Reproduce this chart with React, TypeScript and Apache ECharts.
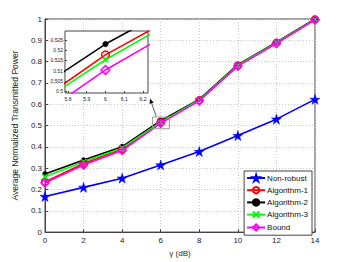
import React, { useEffect, useRef } from "react";
import * as echarts from "echarts";

const gammaDb = [0, 2, 4, 6, 8, 10, 12, 14];
const nonRobust = [0.167, 0.21, 0.253, 0.315, 0.378, 0.453, 0.53, 0.623];
const algorithm1 = [0.235, 0.322, 0.39, 0.5177, 0.619, 0.782, 0.888, 0.998];
const algorithm2 = [0.273, 0.338, 0.401, 0.523, 0.623, 0.786, 0.891, 1.0];
const algorithm3 = [0.26, 0.33, 0.395, 0.5153, 0.62, 0.783, 0.889, 0.998];
const bound = [0.231, 0.315, 0.383, 0.5103, 0.616, 0.779, 0.885, 0.996];
const insetXTicks = [5.8, 5.9, 6, 6.1, 6.2];
const insetYTicks = [0.5, 0.505, 0.51, 0.515, 0.52, 0.525];

const STAR =
  "path://M50,0L61.8,36.2L100,36.2L69.1,58.8L80.9,95.1L50,72.5L19.1,95.1L30.9,58.8L0,36.2L38.2,36.2Z";
const CROSS = "path://M0,0L10,10M10,0L0,10";

const FONT = "'Liberation Sans', Arial, sans-serif";

const seriesDefs = [
  { name: "Non-robust", data: nonRobust, color: "#0000ff", symbol: STAR, size: 10, fill: "#0000ff" },
  { name: "Algorithm-1", data: algorithm1, color: "#ff0000", symbol: "circle", size: 7, fill: "none" },
  { name: "Algorithm-2", data: algorithm2, color: "#000000", symbol: "circle", size: 5, fill: "#000000" },
  { name: "Algorithm-3", data: algorithm3, color: "#00ff00", symbol: CROSS, size: 5, fill: "none" },
  { name: "Bound", data: bound, color: "#ff00ff", symbol: "diamond", size: 8, fill: "none" },
];

export default function App() {
  const ref = useRef<HTMLDivElement>(null);
  useEffect(() => {
    const chart = echarts.init(ref.current!, null, { renderer: "svg" });
    const mkSeries = (gi: number, inset: boolean) =>
      seriesDefs.map((s) => ({
        name: s.name,
        type: "line",
        xAxisIndex: gi,
        yAxisIndex: gi,
        data: gammaDb.map((g, i) => [g, s.data[i]]),
        symbol: s.symbol,
        symbolSize: inset ? s.size * 1.1 : s.size,
        clip: true,
        showSymbol: true,
        lineStyle: { color: s.color, width: 1.6 },
        itemStyle: {
          color: s.fill,
          borderColor: s.color,
          borderWidth: s.fill === "none" ? 1.5 : 0.5,
        },
        z: (inset ? 20 : 0) + (s.name === "Bound" ? 6 : s.name === "Non-robust" ? 2 : 4),
        emphasis: { disabled: true },
      }));
    const fmt = (v: number) => String(parseFloat(v.toFixed(3)));
    chart.setOption({
      animation: false,
      textStyle: { fontFamily: FONT },
      grid: [
        { left: 45, right: 34, top: 19, bottom: 29.5, show: true, borderColor: "#444", borderWidth: 1 },
        { left: 65, top: 31, width: 83, height: 62, show: true, borderColor: "#444", borderWidth: 1, backgroundColor: "#fff", z: 15 },
      ],
      xAxis: [
        {
          type: "value",
          gridIndex: 0,
          min: 0,
          max: 14,
          interval: 2,
          name: "γ (dB)",
          nameLocation: "middle",
          nameGap: 11.5,
          nameTextStyle: { fontSize: 8, color: "#222", fontFamily: FONT },
          axisLine: { lineStyle: { color: "#444" } },
          axisTick: { inside: true, length: 3, lineStyle: { color: "#444" } },
          axisLabel: { fontSize: 8, color: "#222", margin: 4, fontFamily: FONT },
          splitLine: { show: true, lineStyle: { color: "#c8c8c8", type: [1, 2], width: 1 } },
        },
        {
          type: "value",
          gridIndex: 1,
          min: 5.784,
          max: 6.227,
          axisLine: { show: false },
          axisTick: { inside: true, length: 2, customValues: insetXTicks, lineStyle: { color: "#444" } },
          axisLabel: { fontSize: 5, color: "#222", margin: 3, customValues: insetXTicks, formatter: fmt, fontFamily: FONT },
          splitLine: { show: false },
          z: 30,
        },
      ],
      yAxis: [
        {
          type: "value",
          gridIndex: 0,
          min: 0,
          max: 1,
          interval: 0.1,
          name: "Average Normalized Transmitted Power",
          nameLocation: "middle",
          nameGap: 12,
          nameTextStyle: { fontSize: 8.5, color: "#222", fontFamily: FONT },
          axisLine: { lineStyle: { color: "#444" } },
          axisTick: { inside: true, length: 3, lineStyle: { color: "#444" } },
          axisLabel: { fontSize: 8, color: "#222", margin: 3, formatter: fmt, fontFamily: FONT },
          splitLine: { show: true, lineStyle: { color: "#c8c8c8", type: [1, 2], width: 1 } },
        },
        {
          type: "value",
          gridIndex: 1,
          min: 0.499,
          max: 0.5294,
          axisLine: { show: false },
          axisTick: { inside: true, length: 2, customValues: insetYTicks, lineStyle: { color: "#444" } },
          axisLabel: { fontSize: 5, color: "#222", margin: 2, customValues: insetYTicks, formatter: fmt, fontFamily: FONT },
          splitLine: { show: false },
          z: 30,
        },
      ],
      legend: {
        orient: "vertical",
        right: 37,
        top: 171,
        itemWidth: 18,
        itemHeight: 8,
        itemGap: 1.5,
        padding: [2, 4, 2, 2],
        backgroundColor: "#fff",
        borderColor: "#444",
        borderWidth: 1,
        z: 40,
        textStyle: { fontSize: 8, lineHeight: 10, color: "#111", fontFamily: FONT, padding: [0, 0, 0, -3] },
        data: seriesDefs.map((s) => s.name),
      },
      series: [...mkSeries(0, false), ...mkSeries(1, true)],
    });

    // annotation: zoom rectangle + arrow pointing to inset
    const p1 = chart.convertToPixel({ gridIndex: 0 }, [5.58, 0.54]) as number[];
    const p2 = chart.convertToPixel({ gridIndex: 0 }, [6.45, 0.485]) as number[];
    const tail = [p1[0] + 3.5, p1[1] - 1];
    const tip = [150, 98.5];
    const dx = tip[0] - tail[0];
    const dy = tip[1] - tail[1];
    const len = Math.sqrt(dx * dx + dy * dy);
    const ux = dx / len;
    const uy = dy / len;
    const hl = 5;
    const hw = 2.2;
    const base = [tip[0] - ux * hl, tip[1] - uy * hl];
    chart.setOption({
      graphic: [
        {
          type: "rect",
          shape: { x: p1[0], y: p1[1], width: p2[0] - p1[0], height: p2[1] - p1[1] },
          style: { fill: "none", stroke: "#999", lineWidth: 1 },
          z: 20,
        },
        {
          type: "line",
          shape: { x1: tail[0], y1: tail[1], x2: base[0], y2: base[1] },
          style: { stroke: "#333", lineWidth: 0.8 },
          z: 20,
        },
        {
          type: "polygon",
          shape: {
            points: [
              tip,
              [base[0] - uy * hw, base[1] + ux * hw],
              [base[0] + uy * hw, base[1] - ux * hw],
            ],
          },
          style: { fill: "#111" },
          z: 20,
        },
      ],
    });
    return () => chart.dispose();
  }, []);
  return <div ref={ref} style={{ width: 349, height: 262, marginLeft: -8, marginTop: -8 }} />;
}
